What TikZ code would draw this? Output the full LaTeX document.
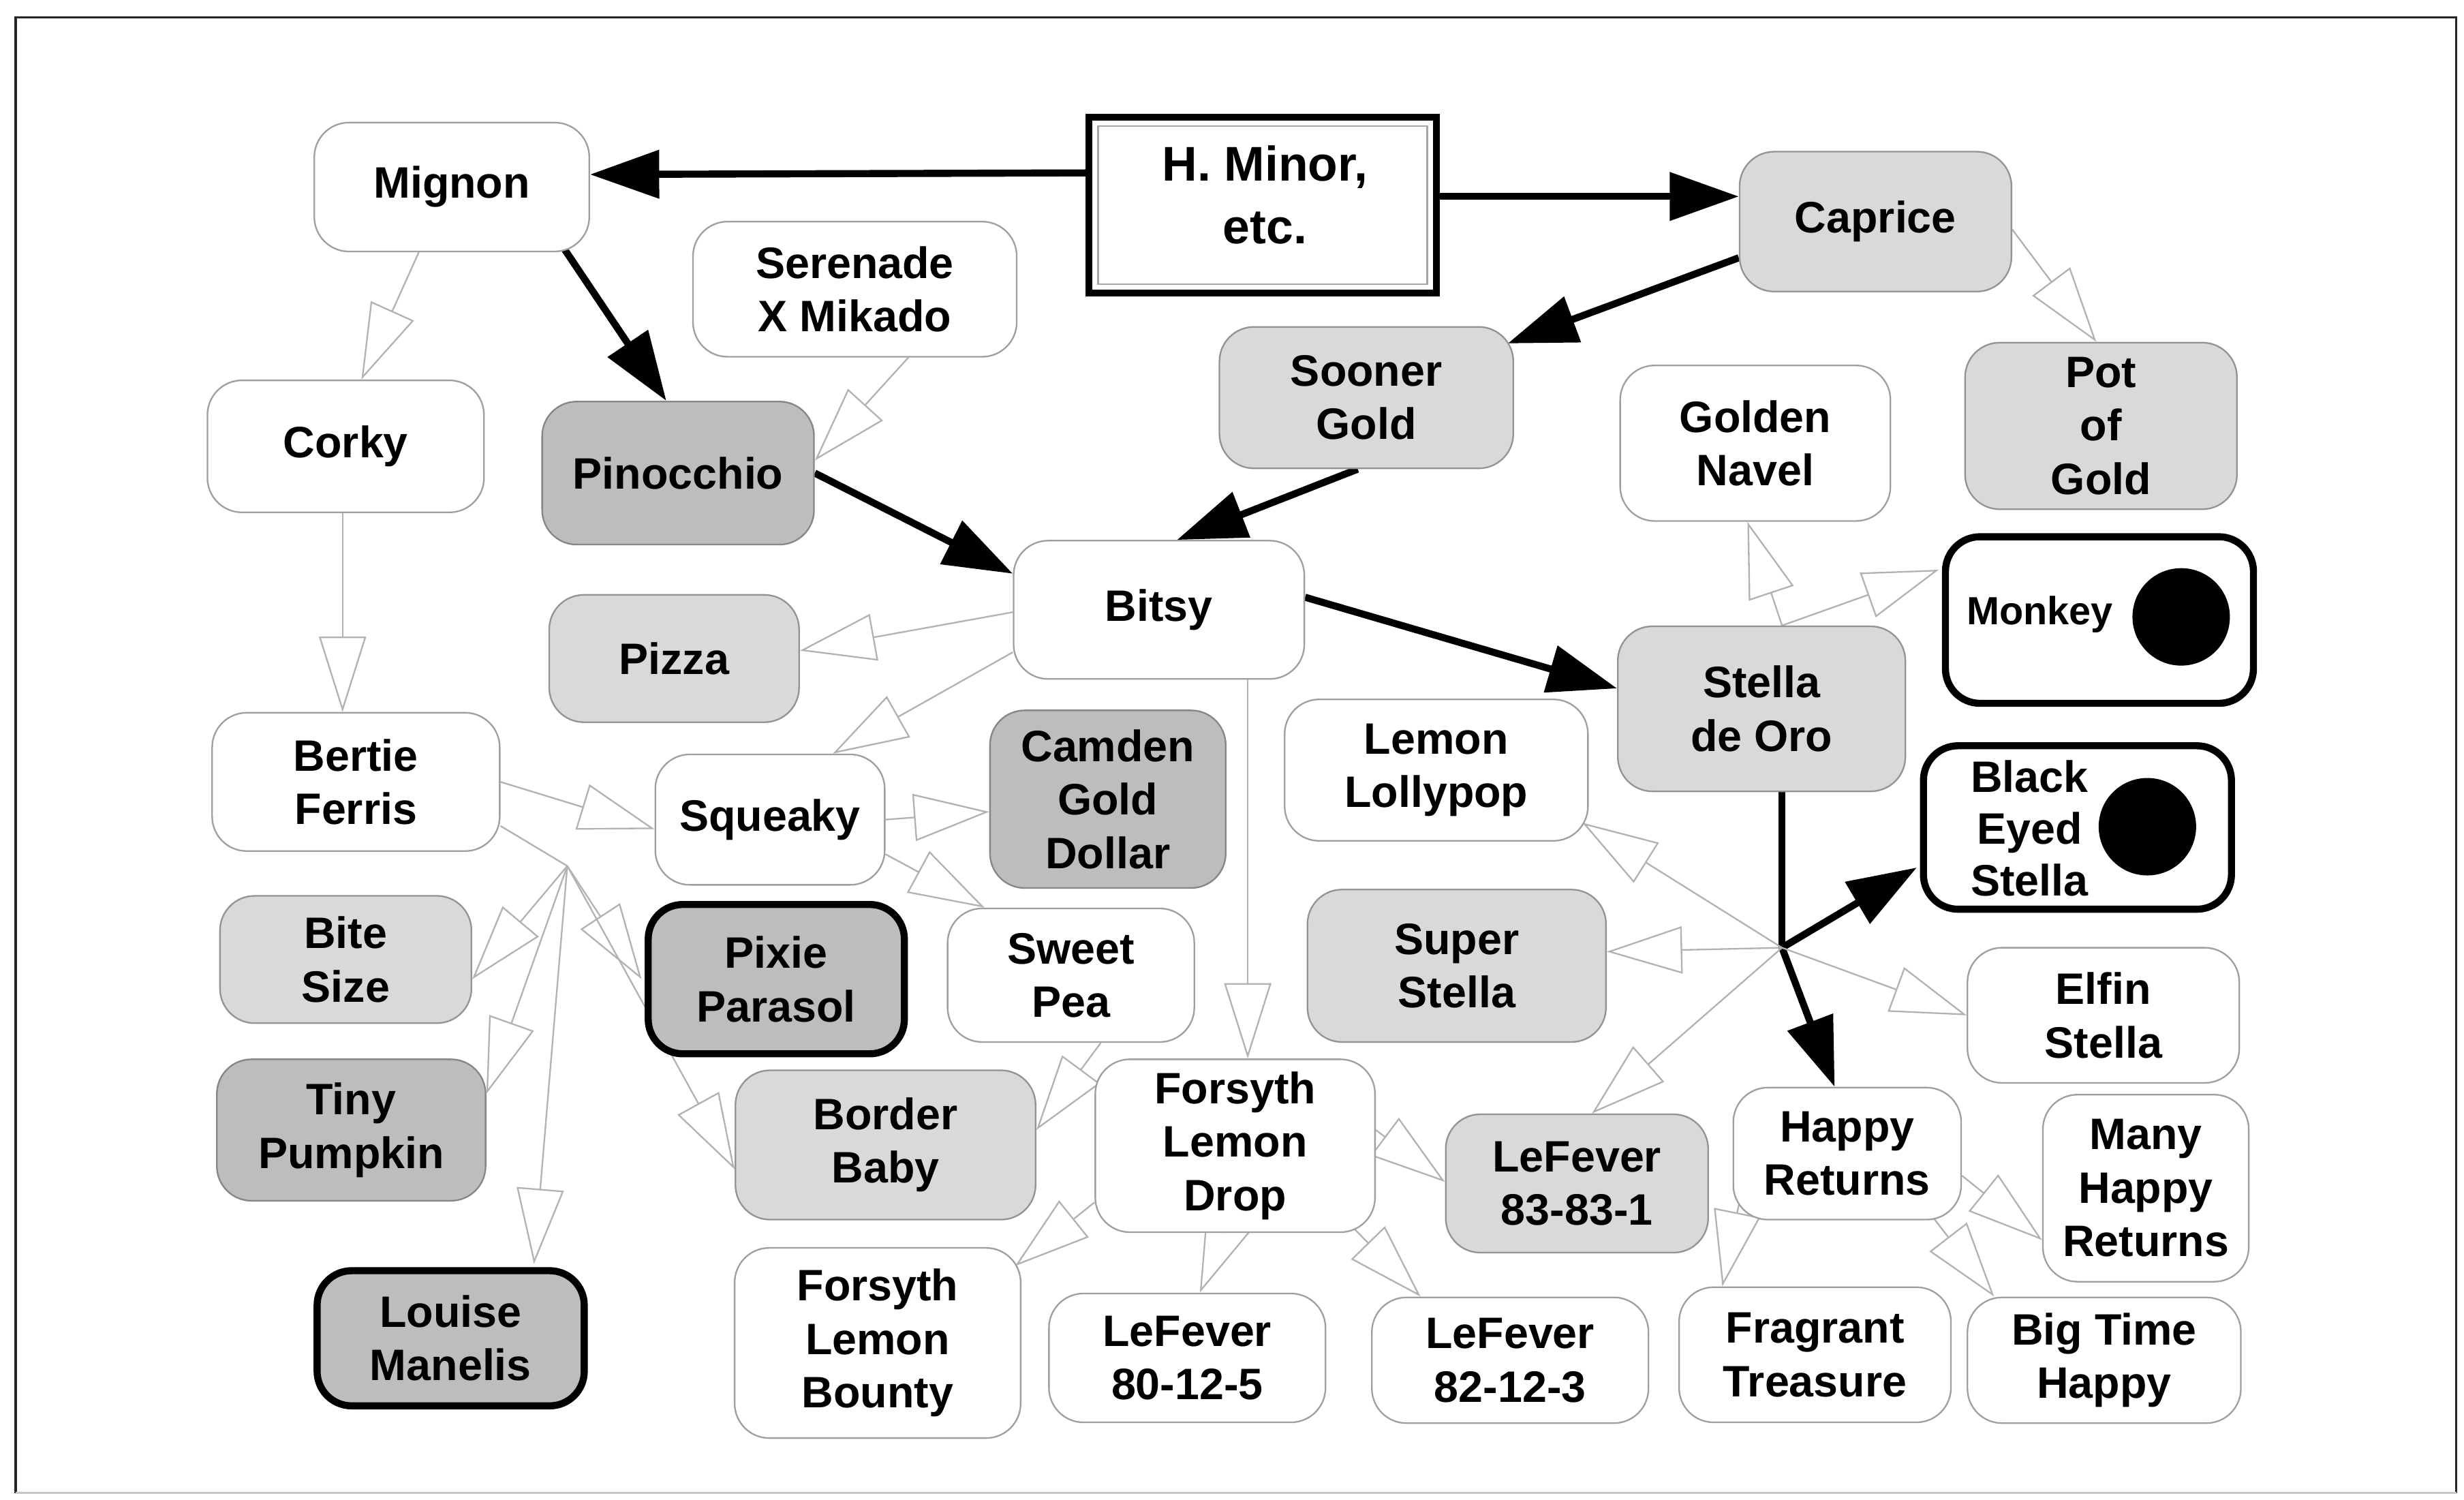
\documentclass[tikz,border=0pt]{standalone}
\usepackage{fontspec}
\setmainfont{Liberation Sans}
\usetikzlibrary{arrows.meta}
\pgfdeclarelayer{bg}
\pgfsetlayers{bg,main}
\begin{document}
\begin{tikzpicture}[x=1pt,y=-1pt,
  box/.style={rounded corners=22pt, align=center, inner sep=0pt, line width=1pt,
     font=\fontsize{28}{34}\selectfont\bfseries},
  wbox/.style={box, draw=gray!75, fill=white},
  lbox/.style={box, draw=gray!85, fill=gray!30},
  dbox/.style={box, draw=gray!95, fill=gray!52},
  heavy/.style={draw=black, line width=4.5pt},
  thinarr/.style={draw=gray!60, line width=1pt, -{Triangle[open, length=48pt, width=30pt]}},
  thinline/.style={draw=gray!60, line width=1pt},
  thickarr/.style={draw=black, line width=4.5pt, -{Triangle[length=44pt, width=30pt]}},
  dot/.style={circle, fill=black, inner sep=0pt, minimum size=62pt}
]
\useasboundingbox (0,0) rectangle (1568,954);

% ---------- nodes ----------
\node[draw=black, line width=4.5pt, fill=white, minimum width=221pt, minimum height=112pt,
      inner sep=0pt] (hminor) at (803.5,130.5) {};
\draw[line width=1pt, gray!70] ([shift={(8pt,-8pt)}]hminor.north west) rectangle ([shift={(-8pt,8pt)}]hminor.south east);
\node[align=center, inner sep=0pt, font=\fontsize{31}{40}\selectfont\bfseries] (hminort) at (805,124) {H. Minor,\\etc.};

\node[wbox, minimum width=175pt, minimum height=82pt] (mignon) at (287.5,119) {Mignon};
\node[lbox, minimum width=173pt, minimum height=89pt] (caprice) at (1193.5,141) {Caprice};
\node[wbox, minimum width=206pt, minimum height=86pt] (serenade) at (544,184) {Serenade\\X Mikado};
\node[lbox, minimum width=187pt, minimum height=90pt] (sooner) at (869.5,253) {Sooner\\Gold};
\node[wbox, minimum width=176pt, minimum height=84pt] (corky) at (220,284) {Corky};
\node[dbox, minimum width=173pt, minimum height=91pt] (pinocchio) at (431.5,301) {Pinocchio};
\node[wbox, minimum width=172pt, minimum height=99pt] (golden) at (1117,282) {Golden\\Navel};
\node[lbox, minimum width=173pt, minimum height=106pt] (pot) at (1337,271) {Pot\\of\\Gold};
\node[wbox, minimum width=185pt, minimum height=88pt] (bitsy) at (737.5,388) {Bitsy};
\node[wbox, heavy, minimum width=196pt, minimum height=106pt] (monkey) at (1336,394.5) {};
\node[font=\fontsize{25}{30}\selectfont\bfseries] (monkeyt) at (1298,391) {Monkey};
\node[dot] (monkeydot) at (1388,392.5) {};
\node[lbox, minimum width=159pt, minimum height=81pt] (pizza) at (429,419) {Pizza};
\node[lbox, minimum width=183pt, minimum height=105pt] (stella) at (1121,451) {Stella\\de Oro};
\node[wbox, minimum width=183pt, minimum height=88pt] (bertie) at (226.5,497.5) {Bertie\\Ferris};
\node[wbox, minimum width=146pt, minimum height=83pt] (squeaky) at (490,521.5) {Squeaky};
\node[dbox, minimum width=150pt, minimum height=113pt] (camden) at (705,508.5) {Camden\\Gold\\Dollar};
\node[wbox, minimum width=193pt, minimum height=90pt] (lemonl) at (914,490) {Lemon\\Lollypop};
\node[wbox, heavy, minimum width=196pt, minimum height=104pt] (blackeyed) at (1322,526.5) {};
\node[font=\fontsize{28}{33}\selectfont\bfseries, align=center] (blackeyedt) at (1291.5,527) {Black\\Eyed\\Stella};
\node[dot] (blackeyeddot) at (1366.5,526) {};
\node[lbox, minimum width=160pt, minimum height=81pt] (bite) at (220,610.5) {Bite\\Size};
\node[dbox, heavy, minimum width=163pt, minimum height=95pt] (pixie) at (494,623) {Pixie\\Parasol};
\node[wbox, minimum width=157pt, minimum height=85pt] (sweetpea) at (681.5,620.5) {Sweet\\Pea};
\node[lbox, minimum width=190pt, minimum height=97pt] (superstella) at (927,614.5) {Super\\Stella};
\node[wbox, minimum width=173pt, minimum height=86pt] (elfin) at (1338.5,646) {Elfin\\Stella};
\node[dbox, minimum width=171pt, minimum height=90pt] (tiny) at (223.5,719) {Tiny\\Pumpkin};
\node[lbox, minimum width=191pt, minimum height=95pt] (border) at (563.5,728.5) {Border\\Baby};
\node[wbox, minimum width=178pt, minimum height=110pt] (fld) at (786,729) {Forsyth\\Lemon\\Drop};
\node[lbox, minimum width=167pt, minimum height=88pt] (lf83) at (1003.5,753) {LeFever\\83-83-1};
\node[wbox, minimum width=145pt, minimum height=84pt] (happy) at (1175.5,734) {Happy\\Returns};
\node[wbox, minimum width=131pt, minimum height=119pt] (many) at (1365.5,756) {Many\\Happy\\Returns};
\node[dbox, heavy, minimum width=170pt, minimum height=86pt] (louise) at (286.8,851.5) {Louise\\Manelis};
\node[wbox, minimum width=182pt, minimum height=121pt] (flb) at (558.5,854.5) {Forsyth\\Lemon\\Bounty};
\node[wbox, minimum width=176pt, minimum height=82pt] (lf80) at (755.5,864) {LeFever\\80-12-5};
\node[wbox, minimum width=176pt, minimum height=80pt] (lf82) at (961,865.5) {LeFever\\82-12-3};
\node[wbox, minimum width=173pt, minimum height=86pt] (fragrant) at (1155,862) {Fragrant\\Treasure};
\node[wbox, minimum width=174pt, minimum height=80pt] (bigtime) at (1339,865.5) {Big Time\\Happy};

\coordinate (jS) at (1134,603);
\coordinate (jB) at (361,551);

% ---------- connectors ----------
\begin{pgfonlayer}{bg}
\fill[white] (0,0) rectangle (1568,954);
\draw[line width=1.5pt, black!85] (10,950) -- (10,11) -- (1563,11) -- (1563,950);
\draw[line width=1.2pt, gray!45] (10,950) -- (1563,950);

% thick lines
\draw[thickarr] ([yshift=20.5pt]hminor.west) -- ([yshift=8pt]mignon.east);
\draw[thickarr] ([yshift=5.5pt]hminor.east) -- ([yshift=16pt]caprice.west);
\draw[thickarr] ([yshift=-23pt]caprice.west) -- ([shift={(-4pt,-11pt)}]sooner.north east);
\draw[thickarr] ([xshift=-5.5pt]sooner.south) -- ([xshift=11.5pt]bitsy.north);
\draw[thickarr] ([shift={(-17pt,3pt)}]mignon.south east) -- ([xshift=-7.5pt]pinocchio.north);
\draw[thickarr] (pinocchio.east) -- ([yshift=23pt]bitsy.west);
\draw[thickarr] ([yshift=8pt]bitsy.east) -- ([yshift=13pt]stella.west);
\draw[draw=black, line width=4.5pt] ([xshift=13pt]stella.south) -- (jS);
\draw[thickarr] (jS) -- ([shift={(-2pt,-25.5pt)}]blackeyed.west);
\draw[thickarr] (jS) -- ([xshift=-8pt]happy.north);

% thin lines
\draw[thinarr] ([xshift=-21pt]mignon.south) -- ([xshift=10pt]corky.north);
\draw[thinarr] ([xshift=-2pt]corky.south) -- ([xshift=-8.5pt]bertie.north);
\draw[thinarr] ([xshift=34pt]serenade.south) -- ([yshift=8pt]pinocchio.east);
\draw[thinarr] ([yshift=-5pt]caprice.east) -- ([xshift=-3pt]pot.north);
\draw[thinarr] ([yshift=-1.5pt]bitsy.west) -- ([yshift=5pt]pizza.east);
\draw[thinarr] ([yshift=-27pt]bitsy.west) -- ([xshift=40pt]squeaky.north);
\draw[thinarr] ([xshift=56.5pt]bitsy.south) -- ([xshift=8pt]fld.north);
\draw[thinarr] (squeaky.east) -- ([yshift=-8pt]camden.west);
\draw[thinarr] ([yshift=-22pt]squeaky.east) -- ([xshift=-55pt]sweetpea.north);
\draw[thinarr] ([xshift=19pt]sweetpea.south) -- ([yshift=9.5pt]border.east);
\draw[thinarr] ([yshift=-36pt]fld.west) -- ([shift={(-4pt,-12pt)}]flb.north east);
\draw[thinarr] ([xshift=-7pt]fld.south) -- ([xshift=8pt]lf80.north);
\draw[thinarr] ([shift={(-16pt,5pt)}]fld.south east) -- ([xshift=-57pt]lf82.north);
\draw[thinarr] ([yshift=10pt]fld.east) -- ([yshift=1pt]lf83.west);
\draw[thinarr] (jS) -- ([xshift=9.5pt]lf83.north);
\draw[thinarr] (jS) -- ([yshift=9pt]superstella.east);
\draw[thinarr] (jS) -- ([shift={(-4pt,12pt)}]lemonl.south east);
\draw[thinarr] (jS) -- (elfin.west);
\draw[thinarr] ([xshift=13pt]stella.north) -- ([xshift=-5pt]golden.south);
\draw[thinarr] ([xshift=13pt]stella.north) -- ([shift={(-2pt,32pt)}]monkey.west);
\draw[thinarr] ([shift={(4pt,10pt)}]happy.south west) -- ([xshift=-59pt]fragrant.north);
\draw[thinarr] ([yshift=-14pt]happy.east) -- ([yshift=-33pt]many.west);
\draw[thinarr] ([shift={(-20pt,4pt)}]happy.south east) -- ([xshift=-70pt]bigtime.north);
\draw[thinarr] (bertie.east) -- ([yshift=-6pt]squeaky.west);
\draw[thinline] ([yshift=-28pt]bertie.east) -- (jB);
\draw[thinarr] (jB) -- ([yshift=-12.5pt]bite.east);
\draw[thinarr] (jB) -- ([yshift=23pt]tiny.east);
\draw[thinarr] (jB) -- ([shift={(53pt,2pt)}]louise.north);
\draw[thinarr] (jB) -- ([xshift=-2pt]pixie.west);
\draw[thinarr] (jB) -- ([yshift=-15.5pt]border.west);
\end{pgfonlayer}
\end{tikzpicture}
\end{document}
